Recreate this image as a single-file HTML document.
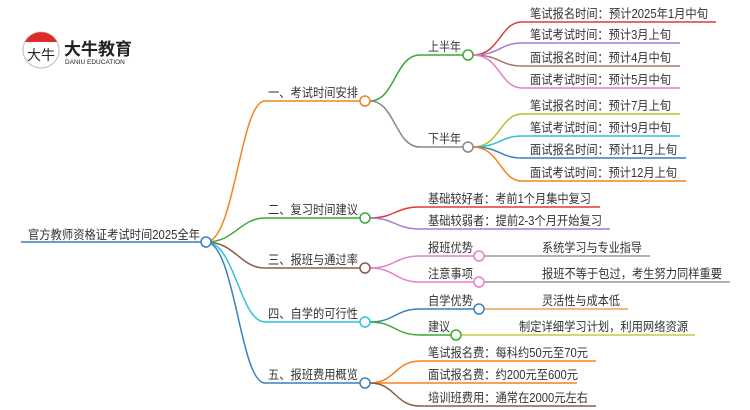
<!DOCTYPE html>
<html><head><meta charset="utf-8"><style>
html,body{margin:0;padding:0;background:#fff;}
svg{display:block;}
text{font-family:"Liberation Sans","Noto Sans CJK SC",sans-serif;font-size:12.5px;fill:#333;}
</style></head><body>
<svg width="750" height="410" viewBox="0 0 750 410" xmlns="http://www.w3.org/2000/svg">
<g fill="none" stroke-width="1.5">
<path d="M21 242 H201" stroke="#3a7fc1"/>
<path d="M206 242 C235 242,240 101,265 101 H360" stroke="#f5821f"/>
<path d="M206 242 C235 242,240 218,265 218 H360" stroke="#3aaa35"/>
<path d="M206 242 C235 242,240 268,265 268 H360" stroke="#8b5a4a"/>
<path d="M206 242 C235 242,240 322,265 322 H360" stroke="#2ec4d6"/>
<path d="M206 242 C235 242,240 383,265 383 H360" stroke="#3a7fc1"/>
<path d="M370 101 C395 101,395 55,420 55 H463" stroke="#3aaa35"/>
<path d="M370 101 C395 101,395 147,420 147 H463" stroke="#888"/>
<path d="M473 55 C500 55,500 22,522 22 H716" stroke="#e03a3a"/>
<path d="M473 55 C500 55,500 43,522 43 H680" stroke="#a57bd0"/>
<path d="M473 55 C500 55,500 66,522 66 H680" stroke="#a0776a"/>
<path d="M473 55 C500 55,500 88,522 88 H680" stroke="#e87dcb"/>
<path d="M473 147 C500 147,500 114,522 114 H680" stroke="#b8c02a"/>
<path d="M473 147 C500 147,500 136,522 136 H680" stroke="#2ec4d6"/>
<path d="M473 147 C500 147,500 158,522 158 H686" stroke="#3a7fc1"/>
<path d="M473 147 C500 147,500 181,522 181 H686" stroke="#f5821f"/>
<path d="M370 218 C395 218,395 207,420 207 H600" stroke="#e03a3a"/>
<path d="M370 218 C395 218,395 229,420 229 H610" stroke="#a57bd0"/>
<path d="M370 268 C395 268,395 256,420 256 H474" stroke="#e87dcb"/>
<path d="M370 268 C395 268,395 282,420 282 H474" stroke="#e87dcb"/>
<path d="M484 256 H650" stroke="#999"/>
<path d="M484 282 H730" stroke="#999"/>
<path d="M370 322 C395 322,395 309,420 309 H474" stroke="#3a7fc1"/>
<path d="M370 322 C395 322,395 335,420 335 H451" stroke="#3aaa35"/>
<path d="M484 309 H628" stroke="#f5a04f"/>
<path d="M461 335 H695" stroke="#c8c84a"/>
<path d="M370 383 C395 383,395 361,420 361 H596" stroke="#f5821f"/>
<path d="M370 383 C395 383,395 383,420 383 H577" stroke="#f5821f"/>
<path d="M370 383 C395 383,395 406,420 406 H596" stroke="#8b5a4a"/>
<g fill="#fff">
<circle cx="206" cy="242" r="5" stroke="#3a7fc1"/>
<circle cx="365" cy="101" r="5" stroke="#f5821f"/>
<circle cx="365" cy="218" r="5" stroke="#3aaa35"/>
<circle cx="365" cy="268" r="5" stroke="#8b5a4a"/>
<circle cx="365" cy="322" r="5" stroke="#2ec4d6"/>
<circle cx="365" cy="383" r="5" stroke="#3a7fc1"/>
<circle cx="468" cy="55" r="5" stroke="#3aaa35"/>
<circle cx="468" cy="147" r="5" stroke="#888"/>
<circle cx="479" cy="256" r="5" stroke="#e87dcb"/>
<circle cx="479" cy="282" r="5" stroke="#e87dcb"/>
<circle cx="479" cy="309" r="5" stroke="#3a7fc1"/>
<circle cx="456" cy="335" r="5" stroke="#3aaa35"/>
</g>
</g>
<circle cx="41" cy="50" r="18" fill="#fff" stroke="#bbb" stroke-width="1"/>
<path d="M25 42 A18 18 0 0 1 57 42 Z" fill="#e02a2a"/>
<text x="27" y="60" style="font-size:14px;fill:#222">大牛</text>
<text x="64" y="55" style="font-size:17px;font-weight:bold;fill:#222">大牛教育</text>
<text x="65" y="64" style="font-size:6.5px;fill:#222">DANIU EDUCATION</text>
<g>
<text x="28" y="239" textLength="172" lengthAdjust="spacingAndGlyphs">官方教师资格证考试时间2025全年</text>
<text x="268" y="97" textLength="90" lengthAdjust="spacingAndGlyphs">一、考试时间安排</text>
<text x="268" y="214" textLength="90" lengthAdjust="spacingAndGlyphs">二、复习时间建议</text>
<text x="268" y="264" textLength="90" lengthAdjust="spacingAndGlyphs">三、报班与通过率</text>
<text x="268" y="318" textLength="90" lengthAdjust="spacingAndGlyphs">四、自学的可行性</text>
<text x="268" y="379" textLength="90" lengthAdjust="spacingAndGlyphs">五、报班费用概览</text>
<text x="428" y="51" textLength="33" lengthAdjust="spacingAndGlyphs">上半年</text>
<text x="428" y="143" textLength="33" lengthAdjust="spacingAndGlyphs">下半年</text>
<text x="530" y="18" textLength="178" lengthAdjust="spacingAndGlyphs">笔试报名时间：预计2025年1月中旬</text>
<text x="530" y="39" textLength="141" lengthAdjust="spacingAndGlyphs">笔试考试时间：预计3月上旬</text>
<text x="530" y="62" textLength="141" lengthAdjust="spacingAndGlyphs">面试报名时间：预计4月中旬</text>
<text x="530" y="84" textLength="141" lengthAdjust="spacingAndGlyphs">面试考试时间：预计5月中旬</text>
<text x="530" y="110" textLength="141" lengthAdjust="spacingAndGlyphs">笔试报名时间：预计7月上旬</text>
<text x="530" y="132" textLength="141" lengthAdjust="spacingAndGlyphs">笔试考试时间：预计9月中旬</text>
<text x="530" y="154" textLength="147" lengthAdjust="spacingAndGlyphs">面试报名时间：预计11月上旬</text>
<text x="530" y="177" textLength="147" lengthAdjust="spacingAndGlyphs">面试考试时间：预计12月上旬</text>
<text x="428" y="203" textLength="163" lengthAdjust="spacingAndGlyphs">基础较好者：考前1个月集中复习</text>
<text x="428" y="225" textLength="174" lengthAdjust="spacingAndGlyphs">基础较弱者：提前2-3个月开始复习</text>
<text x="428" y="252" textLength="45" lengthAdjust="spacingAndGlyphs">报班优势</text>
<text x="428" y="278" textLength="45" lengthAdjust="spacingAndGlyphs">注意事项</text>
<text x="542" y="252" textLength="100" lengthAdjust="spacingAndGlyphs">系统学习与专业指导</text>
<text x="542" y="278" textLength="180" lengthAdjust="spacingAndGlyphs">报班不等于包过，考生努力同样重要</text>
<text x="428" y="305" textLength="45" lengthAdjust="spacingAndGlyphs">自学优势</text>
<text x="428" y="331" textLength="22" lengthAdjust="spacingAndGlyphs">建议</text>
<text x="542" y="305" textLength="78" lengthAdjust="spacingAndGlyphs">灵活性与成本低</text>
<text x="519" y="331" textLength="169" lengthAdjust="spacingAndGlyphs">制定详细学习计划，利用网络资源</text>
<text x="428" y="357" textLength="160" lengthAdjust="spacingAndGlyphs">笔试报名费：每科约50元至70元</text>
<text x="428" y="379" textLength="150" lengthAdjust="spacingAndGlyphs">面试报名费：约200元至600元</text>
<text x="428" y="402" textLength="160" lengthAdjust="spacingAndGlyphs">培训班费用：通常在2000元左右</text>
</g>
</svg>
</body></html>
